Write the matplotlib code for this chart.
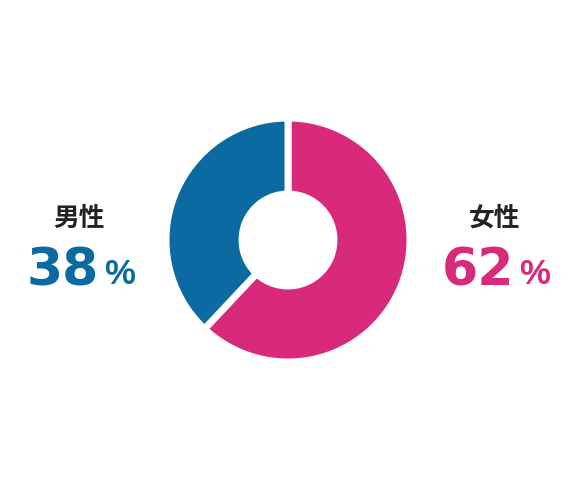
import matplotlib
matplotlib.use("Agg")
import matplotlib.pyplot as plt

# gender split
labels = ["女性", "男性"]
shares = [62, 38]
colors = ["#d9297a", "#0a6aa1"]

W, H = 576, 480
fig = plt.figure(figsize=(W / 100, H / 100), dpi=100)
ax = fig.add_axes([0, 0, 1, 1])
ax.set_xlim(0, W)
ax.set_ylim(H, 0)
ax.set_aspect("equal")
ax.axis("off")

# donut, clockwise from 12 o'clock (y axis inverted -> counterclock=True draws clockwise)
ax.pie(shares, colors=colors, startangle=-90, counterclock=True,
       center=(288, 240), radius=122, frame=True,
       wedgeprops=dict(width=76, edgecolor="white", linewidth=5))
ax.set_xlim(0, W)
ax.set_ylim(H, 0)
ax.axis("off")

cjk = ["Noto Sans CJK JP", "DejaVu Sans"]
# label blocks: (x of title centre, x right edge of number)
spots = {"男性": (79, 99), "女性": (495, 514)}
for lab, val, col in zip(labels, shares, colors):
    cx, rx = spots[lab]
    ax.text(cx, 218, lab, ha="center", va="center", fontsize=18.5,
            fontweight="bold", family=cjk, color="#222222")
    ax.text(rx, 285, str(val), ha="right", va="baseline", fontsize=37.5,
            fontweight="bold", family="DejaVu Sans", color=col)
    ax.text(rx + 5, 284, "%", ha="left", va="baseline", fontsize=25,
            fontweight="bold", family="Liberation Sans", color=col)

fig.savefig("out.png", dpi=100)
